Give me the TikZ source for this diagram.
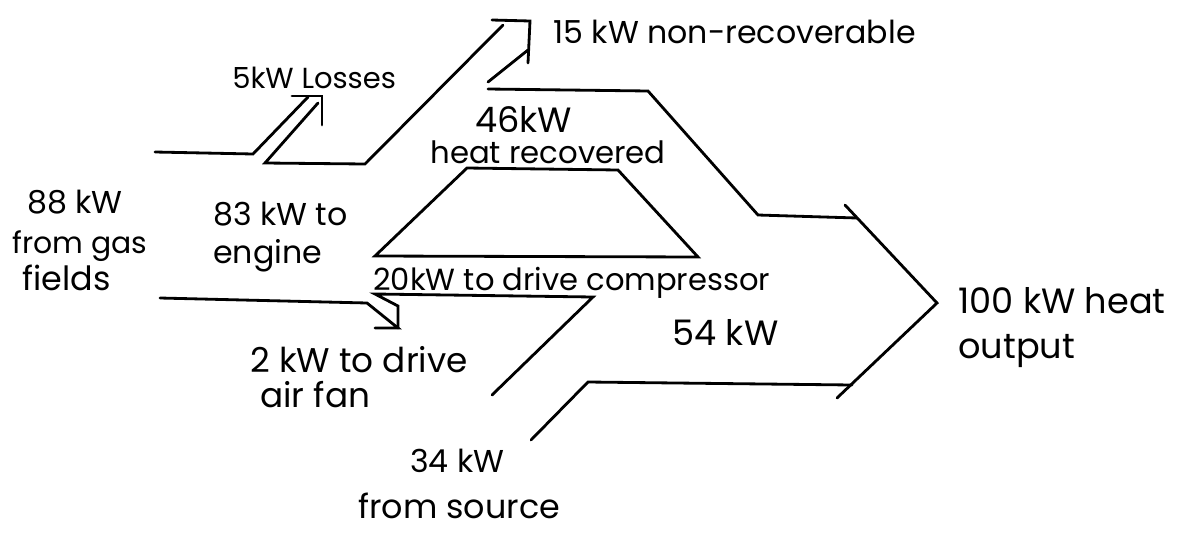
\documentclass[tikz,border=0pt]{standalone}
\usepackage{fontspec}
\setmainfont{Poppins}
\begin{document}
\begin{tikzpicture}[x=0.02cm,y=-0.02cm,
  flow/.style={line width=1.6pt,line join=miter,line cap=round},
  lbl/.style={anchor=base west,inner sep=0pt,font=\fontsize{18}{22}\selectfont},
  lblbig/.style={lbl,font=\fontsize{20}{24}\selectfont},
  lblsm/.style={lbl,font=\fontsize{16.5}{20}\selectfont}]
\useasboundingbox (0,0) rectangle (1204,538);
% coordinates of the flow outline
\coordinate (a1) at (155,152); \coordinate (a2) at (253,154); \coordinate (a3) at (308,97);
\coordinate (h1) at (292,96); \coordinate (h2) at (322,96); \coordinate (h3) at (322,125);
\coordinate (b1) at (318,103); \coordinate (b2) at (265,163); \coordinate (b3) at (365,164); \coordinate (b4) at (503,25);
\coordinate (k1) at (492,20); \coordinate (k2) at (530,21); \coordinate (k3) at (528,63);
\coordinate (c1) at (528,50); \coordinate (c2) at (488,82);
\coordinate (d1) at (488,89); \coordinate (d2) at (648,91); \coordinate (d3) at (758,215); \coordinate (d4) at (857,218);
\coordinate (t1) at (845,205); \coordinate (tip) at (937,303); \coordinate (t2) at (837,398);
\coordinate (e1) at (852,385); \coordinate (e2) at (588,382); \coordinate (e3) at (531,440);
\coordinate (z1) at (467,168); \coordinate (z2) at (618,170); \coordinate (z3) at (698,257); \coordinate (z4) at (375,256);
\coordinate (f1) at (160,298); \coordinate (f2) at (367,303); \coordinate (f3) at (398,328);
\coordinate (g1) at (375,328); \coordinate (g2) at (398,306);
\coordinate (m1) at (375,294); \coordinate (m2) at (593,297); \coordinate (m3) at (492,395);
% flow outlines
\draw[flow] (a1) -- (a2) -- (a3);
\draw[flow] (h1) -- (h2) -- (h3);
\draw[flow] (b1) -- (b2) -- (b3) -- (b4);
\draw[flow] (k1) -- (k2) -- (k3);
\draw[flow] (c1) -- (c2);
\draw[flow] (d1) -- (d2) -- (d3) -- (d4);
\draw[flow] (t1) -- (tip) -- (t2);
\draw[flow] (e1) -- (e2) -- (e3);
\draw[flow] (z1) -- (z2) -- (z3) -- (z4) -- cycle;
\draw[flow] (f1) -- (f2) -- (f3) -- (g1);
\draw[flow] (f3) -- (g2) -- (m1) -- (m2) -- (m3);
% labels
\node[lbl] (t15) at (553,43) {15 kW non-recoverable};
\node[lbl,font=\fontsize{16.5}{20}\selectfont] (t5) at (232,88) {5kW Losses};
\node[lblbig] (t46) at (475,132) {46kW};
\node[lblsm,font=\fontsize{17.5}{20}\selectfont] (theat) at (430,163) {heat recovered};
\node[lbl] (t88a) at (27,213) {88 kW};
\node[lbl,font=\fontsize{17}{20}\selectfont] (t88b) at (12,253) {from gas};
\node[lbl,font=\fontsize{19}{20}\selectfont] (t88c) at (22,290) {fields};
\node[lbl] (t83a) at (213,225) {83 kW to};
\node[lbl] (t83b) at (213,263) {engine};
\node[lbl,font=\fontsize{17.4}{20}\selectfont] (t20) at (373,290) {20kW to drive compressor};
\node[lblbig] (t54) at (672,345) {54 kW};
\node[lbl,font=\fontsize{20}{24}\selectfont] (t100a) at (958,313) {100 kW heat};
\node[lbl,font=\fontsize{20}{24}\selectfont] (t100b) at (958,358) {output};
\node[lbl,font=\fontsize{19.5}{24}\selectfont] (t2a) at (250,372) {2 kW to drive};
\node[lbl,font=\fontsize{19.5}{24}\selectfont] (t2b) at (260,407) {air fan};
\node[lbl] (t34) at (410,472) {34 kW};
\node[lbl,font=\fontsize{19}{24}\selectfont] (tsrc) at (358,518) {from source};
\end{tikzpicture}
\end{document}
